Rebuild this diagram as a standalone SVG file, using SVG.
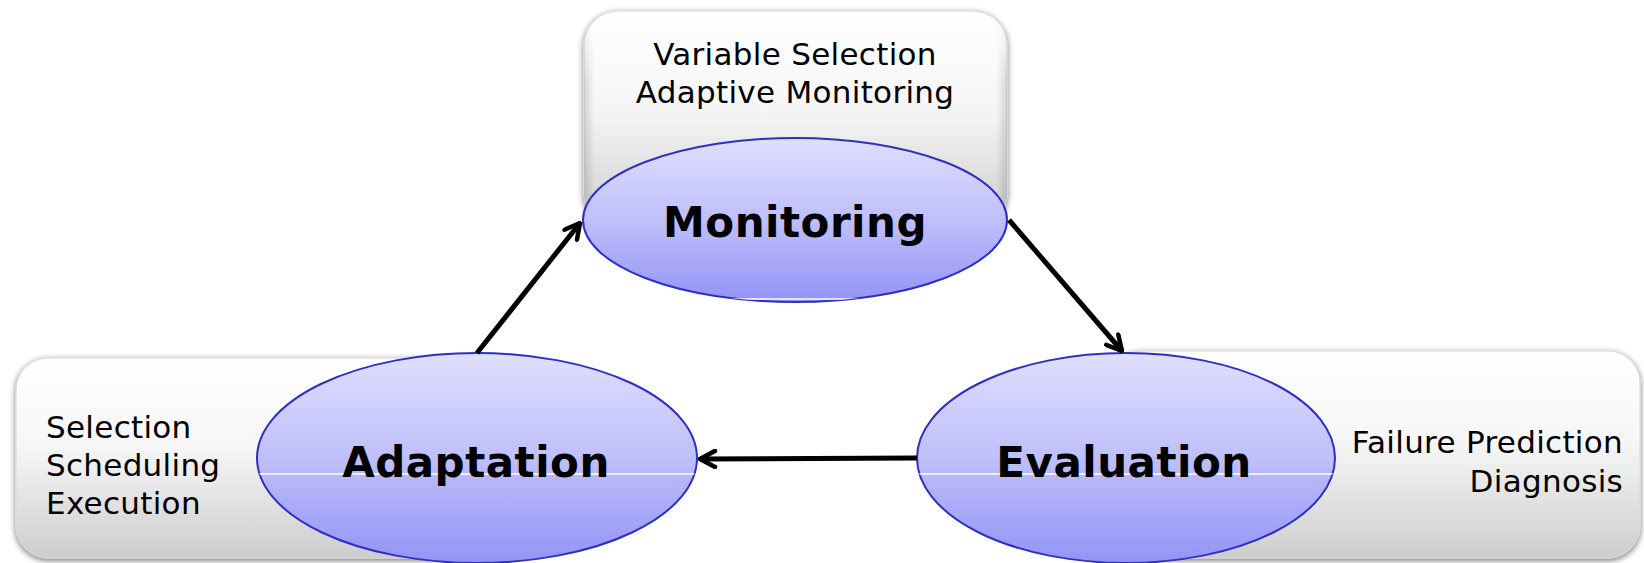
<svg xmlns="http://www.w3.org/2000/svg" width="1644" height="563" viewBox="0 0 1644 563">
<style>
.box{fill:url(#boxGrad);stroke:#d8d8d8;stroke-width:1;filter:url(#shadow)}
.edge{fill:url(#edgeGrad);stroke:none}
.ell{fill:url(#ellGrad);stroke:#2f2fc4;stroke-width:2}
.sub{font-family:"DejaVu Sans",Verdana,sans-serif;font-size:31px;letter-spacing:0.3px;fill:#000}
.lbl{font-family:"DejaVu Sans",Verdana,sans-serif;font-size:42px;letter-spacing:0.5px;font-weight:bold;fill:#000;text-anchor:middle}
.conn{stroke:#000;stroke-width:5;fill:none;marker-end:url(#arr)}
.hl{stroke:#fff;stroke-width:1.5}
</style>
<defs>
<linearGradient id="boxGrad" x1="0" y1="0" x2="0" y2="1">
<stop offset="0" stop-color="#ffffff"/>
<stop offset="0.45" stop-color="#f6f6f6"/>
<stop offset="1" stop-color="#cdcdcd"/>
</linearGradient>
<linearGradient id="edgeGrad" x1="0" y1="0" x2="1" y2="0">
<stop offset="0" stop-color="#000" stop-opacity="0.14"/>
<stop offset="0.025" stop-color="#000" stop-opacity="0"/>
<stop offset="0.975" stop-color="#000" stop-opacity="0"/>
<stop offset="1" stop-color="#000" stop-opacity="0.14"/>
</linearGradient>
<linearGradient id="fadeV" x1="0" y1="0" x2="0" y2="1">
<stop offset="0" stop-color="#fff" stop-opacity="0"/>
<stop offset="0.35" stop-color="#fff" stop-opacity="1"/>
<stop offset="1" stop-color="#fff" stop-opacity="1"/>
</linearGradient>
<mask id="mFade" maskContentUnits="objectBoundingBox">
<rect x="0" y="0" width="1" height="1" fill="url(#fadeV)"/>
</mask>
<linearGradient id="ellGrad" x1="0" y1="0" x2="0" y2="1">
<stop offset="0" stop-color="#dfdffd"/>
<stop offset="0.5" stop-color="#bfbffb"/>
<stop offset="1" stop-color="#9393f6"/>
</linearGradient>
<filter id="shadow" x="-10%" y="-10%" width="120%" height="130%">
<feGaussianBlur in="SourceAlpha" stdDeviation="3"/>
<feOffset dx="0" dy="2" result="b"/>
<feComponentTransfer><feFuncA type="linear" slope="0.55"/></feComponentTransfer>
<feMerge><feMergeNode/><feMergeNode in="SourceGraphic"/></feMerge>
</filter>
<marker id="arr" viewBox="0 0 20 20" refX="18" refY="10" markerWidth="20" markerHeight="20" markerUnits="userSpaceOnUse" orient="auto">
<path d="M3,2 L18,10 L3,18" fill="none" stroke="#000" stroke-width="4.5" stroke-linecap="round" stroke-linejoin="miter"/>
</marker>
<clipPath id="cM"><ellipse cx="795" cy="220" rx="212" ry="82"/></clipPath>
<clipPath id="cA"><ellipse cx="477" cy="458" rx="220" ry="105"/></clipPath>
<clipPath id="cE"><ellipse cx="1126" cy="458" rx="209" ry="105"/></clipPath>
</defs>

<g id="monitoring">
<rect class="box" x="584" y="11" width="423" height="216" rx="34"/>
<rect class="edge" x="584" y="11" width="423" height="216" rx="34" mask="url(#mFade)"/>
<text class="sub" x="795" y="65" text-anchor="middle">Variable Selection</text>
<text class="sub" x="795" y="103" text-anchor="middle">Adaptive Monitoring</text>
<ellipse class="ell" cx="795" cy="220" rx="212" ry="82"/>
<line class="hl" x1="583" y1="299" x2="1007" y2="299" clip-path="url(#cM)"/>
<text class="lbl" x="795" y="237">Monitoring</text>
</g>

<g id="adaptation">
<rect class="box" x="16" y="358" width="480" height="200" rx="32"/>
<text class="sub" x="46" y="438">Selection</text>
<text class="sub" x="46" y="476">Scheduling</text>
<text class="sub" x="46" y="514">Execution</text>
<ellipse class="ell" cx="477" cy="458" rx="220" ry="105"/>
<line class="hl" x1="257" y1="474" x2="697" y2="474" clip-path="url(#cA)"/>
<text class="lbl" x="476" y="477">Adaptation</text>
</g>

<g id="evaluation">
<rect class="box" x="1110" y="351" width="530" height="207" rx="32"/>
<text class="sub" x="1623" y="453" text-anchor="end">Failure Prediction</text>
<text class="sub" x="1623" y="492" text-anchor="end">Diagnosis</text>
<ellipse class="ell" cx="1126" cy="458" rx="209" ry="105"/>
<line class="hl" x1="917" y1="474" x2="1335" y2="474" clip-path="url(#cE)"/>
<text class="lbl" x="1124" y="477">Evaluation</text>
</g>

<g id="connectors">
<line class="conn" x1="477" y1="353" x2="580" y2="223"/>
<line class="conn" x1="1009" y1="220" x2="1122" y2="351"/>
<line class="conn" x1="917" y1="458" x2="700" y2="459"/>
</g>
</svg>
